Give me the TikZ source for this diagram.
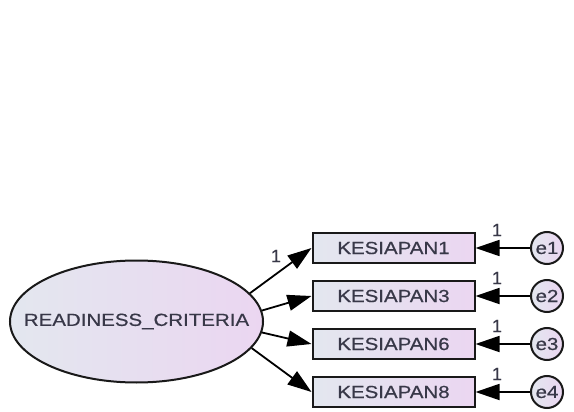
\documentclass[tikz,border=0pt]{standalone}
\usepackage{fontspec}
\setmainfont{Liberation Sans}
\newfontfamily\semib{Liberation Sans}[FakeBold=0.5]
\usetikzlibrary{shapes.geometric,arrows.meta}
\definecolor{fillL}{HTML}{E3E7EF}
\definecolor{fillR}{HTML}{EBD6F1}
\definecolor{txt}{HTML}{383848}
\tikzset{
  latent/.style={ellipse,draw=black!90,line width=2pt,left color=fillL,right color=fillR,minimum width=253pt,minimum height=122pt,inner sep=0pt},
  lbl/.style={text=txt,font=\semib\fontsize{17.5}{20}\selectfont,inner sep=0pt},
  obs/.style={rectangle,draw=black!90,line width=2pt,left color=fillL,right color=fillR,minimum width=162pt,minimum height=30pt,inner sep=0pt,text=txt,font=\semib\fontsize{17.5}{20}\selectfont},
  err/.style={circle,draw=black!90,line width=2pt,left color=fillL,right color=fillR,minimum size=32pt,inner sep=0pt,text=txt,font=\semib\fontsize{17.5}{20}\selectfont},
  path1/.style={draw=black,line width=1.8pt,-{Triangle[length=24pt,width=16pt]}},
  wlab/.style={text=txt,font=\semib\fontsize{18}{20}\selectfont,inner sep=0pt}
}
\newcommand{\sx}[1]{\scalebox{1.17}[1]{#1}}
\begin{document}
\begin{tikzpicture}[x=1pt,y=-1pt]
\fill[white] (0,0) rectangle (574,412);
\useasboundingbox (0,0) rectangle (574,412);
\node[latent] (F) at (136.5,321.5) {};
\node[lbl] (Ft) at (F.center) {\sx{READINESS\_CRITERIA}};
\node[obs] (K1) at (393.5,248) {\sx{KESIAPAN1}};
\node[obs] (K3) at (393.5,296) {\sx{KESIAPAN3}};
\node[obs] (K6) at (393.5,344) {\sx{KESIAPAN6}};
\node[obs] (K8) at (393.5,392) {\sx{KESIAPAN8}};
\node[err] (e1) at (547,248) {\sx{e1}};
\node[err] (e2) at (547,296) {\sx{e2}};
\node[err] (e3) at (547,344) {\sx{e3}};
\node[err] (e4) at (547,392) {\sx{e4}};
\draw[path1] (F.14) -- (K1.west);
\draw[path1] (F.5) -- (K3.west);
\draw[path1] (F.-5) -- (K6.west);
\draw[path1] (F.-13) -- (K8.west);
\draw[path1] (e1) -- (K1);
\draw[path1] (e2) -- (K3);
\draw[path1] (e3) -- (K6);
\draw[path1] (e4) -- (K8);
\node[wlab] (w0) at (276,256) {1};
\node[wlab] (w1) at (497,230) {1};
\node[wlab] (w2) at (497,278) {1};
\node[wlab] (w3) at (497,326) {1};
\node[wlab] (w4) at (497,374) {1};
\end{tikzpicture}
\end{document}
